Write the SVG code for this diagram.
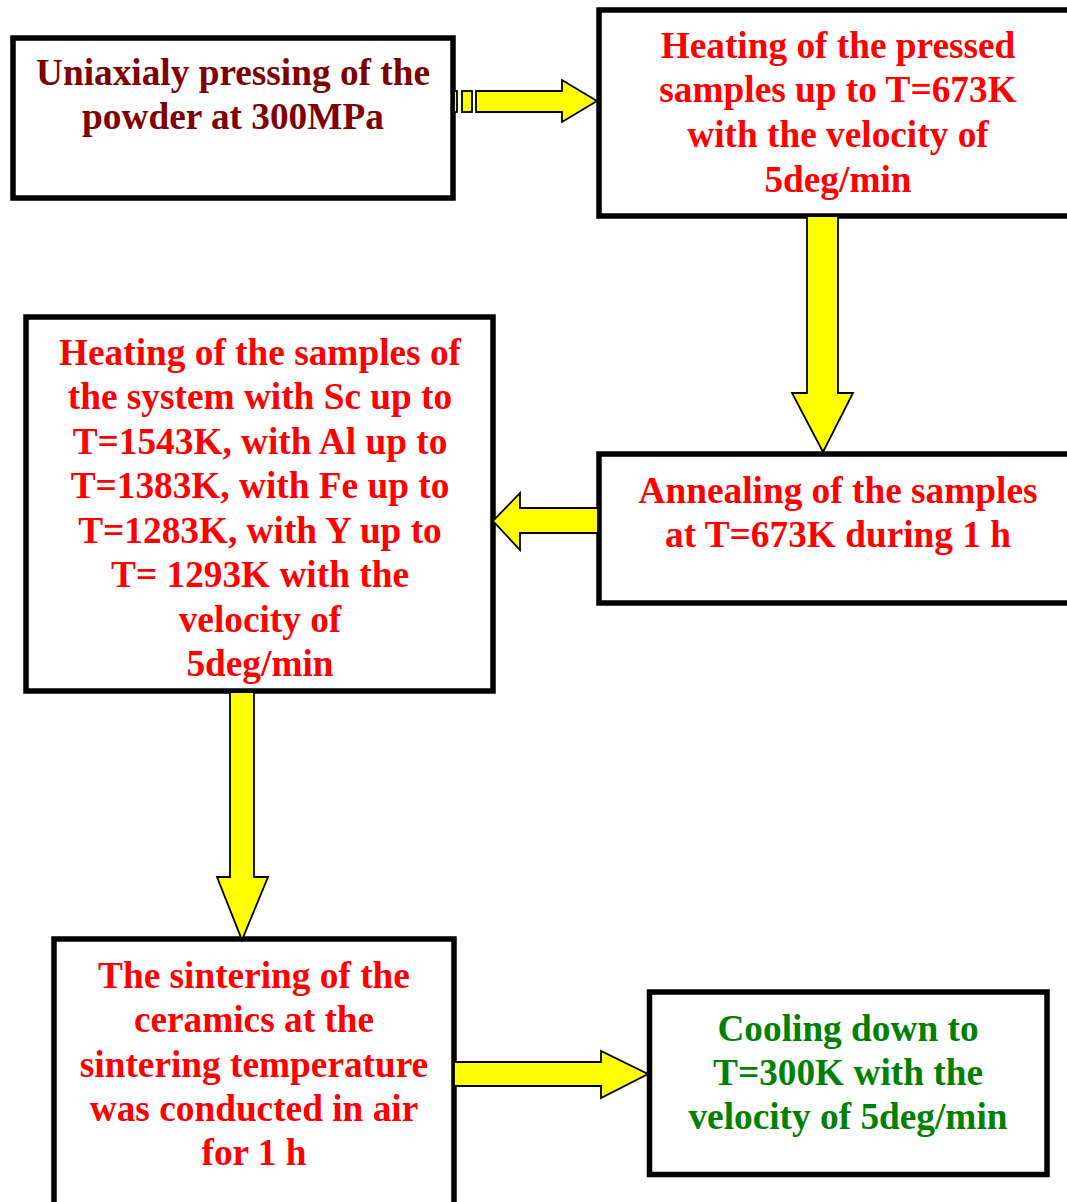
<svg xmlns="http://www.w3.org/2000/svg" width="1067" height="1202" viewBox="0 0 1067 1202">
<style>
.box{fill:#ffffff;stroke:#000000;stroke-width:5.5}
.arr{fill:#ffff00;stroke:#000000;stroke-width:1.8;stroke-linejoin:miter}
.t{font-family:"Liberation Serif","Times New Roman",serif;font-weight:bold;font-size:37.3px;text-anchor:middle}
.dr{fill:#800000}
.rd{fill:#ff0000}
.gr{fill:#008000}
</style>
<rect x="0" y="0" width="1067" height="1202" fill="#ffffff"/>
<g id="node-pressing">
<rect class="box" x="13" y="38" width="440" height="160"/>
<text class="t dr" x="233" y="85">Uniaxialy pressing of the</text>
<text class="t dr" x="233" y="129">powder at 300MPa</text>
</g>
<g id="node-heating-pressed">
<rect class="box" x="599" y="10" width="500" height="206"/>
<text class="t rd" x="838" y="58">Heating of the pressed</text>
<text class="t rd" x="838" y="102">samples up to T=673K</text>
<text class="t rd" x="838" y="147">with the velocity of</text>
<text class="t rd" x="838" y="192">5deg/min</text>
</g>
<g id="node-annealing">
<rect class="box" x="599" y="454" width="500" height="149"/>
<text class="t rd" x="838" y="503">Annealing of the samples</text>
<text class="t rd" x="838" y="547">at T=673K during 1 h</text>
</g>
<g id="node-heating-system">
<rect class="box" x="26" y="317" width="467" height="374"/>
<text class="t rd" x="260" y="365">Heating of the samples of</text>
<text class="t rd" x="260" y="409">the system with Sc up to</text>
<text class="t rd" x="260" y="454">T=1543K, with Al up to</text>
<text class="t rd" x="260" y="498">T=1383K, with Fe up to</text>
<text class="t rd" x="260" y="543">T=1283K, with Y up to</text>
<text class="t rd" x="260" y="587">T= 1293K with the</text>
<text class="t rd" x="260" y="632">velocity of</text>
<text class="t rd" x="260" y="676">5deg/min</text>
</g>
<g id="node-sintering">
<rect class="box" x="54" y="939" width="400" height="300"/>
<text class="t rd" x="254" y="988">The sintering of the</text>
<text class="t rd" x="254" y="1032">ceramics at the</text>
<text class="t rd" x="254" y="1077">sintering temperature</text>
<text class="t rd" x="254" y="1121">was conducted in air</text>
<text class="t rd" x="254" y="1165">for 1 h</text>
</g>
<g id="node-cooling">
<rect class="box" x="649.5" y="992" width="397.5" height="182.5"/>
<text class="t gr" x="848" y="1041">Cooling down to</text>
<text class="t gr" x="848" y="1085">T=300K with the</text>
<text class="t gr" x="848" y="1129">velocity of 5deg/min</text>
</g>
<g id="connectors">
<rect class="arr" x="454" y="91" width="3" height="21"/>
<rect class="arr" x="462" y="91" width="10" height="21"/>
<polygon class="arr" points="476,91 562,91 562,80 597,101 562,122 562,112 476,112"/>
<polygon class="arr" points="807,216 838,216 838,393 853,393 823,452 792,393 807,393"/>
<polygon class="arr" points="598,508 520,508 520,493 493,521 520,550 520,533 598,533"/>
<polygon class="arr" points="230,692 254,692 254,877 268,877 242,940 217,877 230,877"/>
<polygon class="arr" points="454,1062 601,1062 601,1051 648,1074 601,1098 601,1086 454,1086"/>
</g>
</svg>
